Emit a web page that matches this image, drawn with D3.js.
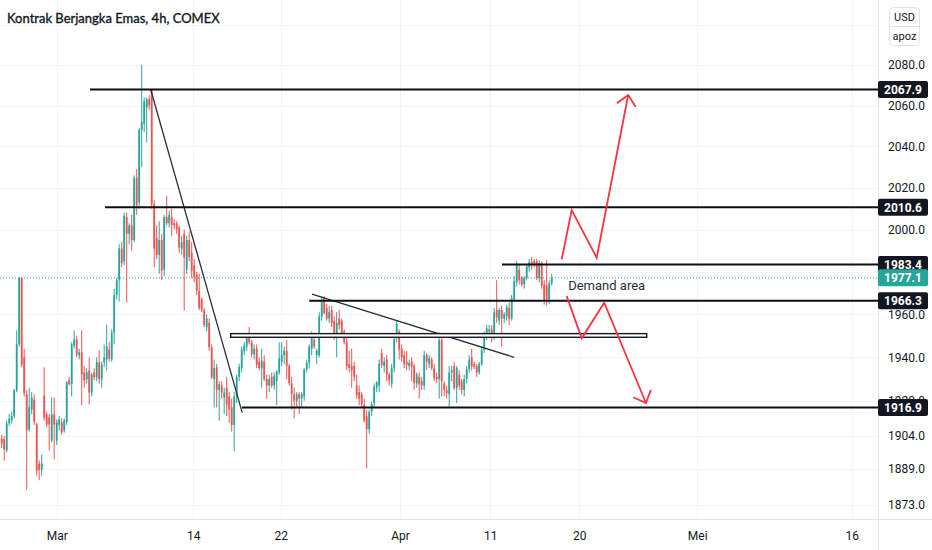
<!DOCTYPE html>
<html>
<head>
<meta charset="utf-8">
<script src="https://cdn.jsdelivr.net/npm/d3@7"></script>
<style>
  body { margin: 0; background: #fff; }
  svg { display: block; font-family: Roboto, "Liberation Sans", sans-serif; }
</style>
</head>
<body>
<div id="chart"></div>
<script>
var svgWidth = 932;
var svgHeight = 550;
var plotRight = 878;
var plotBottom = 519;

// 4h candles (one value per candle)
var opens = [
  1903, 1902.5, 1897.5, 1909.7, 1911, 1913, 1924.8, 1946, 1977, 1940,
  1922.9, 1907, 1916, 1920.6, 1909.2, 1891.5, 1888.7, 1922.4, 1913.8, 1912.4,
  1901.9, 1913.8, 1901.9, 1909, 1910.1, 1906.5, 1910.1, 1929.4, 1927.6, 1945.5,
  1948.3, 1940.9, 1942.3, 1933.1, 1929.9, 1934, 1923.8, 1933.1, 1930.8, 1937.7,
  1929.9, 1937.7, 1939, 1943.7, 1939, 1951.5, 1969, 1976, 1991, 1985,
  2006, 1998, 2002, 1995, 2024.8, 2013, 2048, 2051, 2059, 2063,
  2067.9, 2012, 1996, 1988, 1995, 1981, 2006, 2003, 2006, 2003,
  2003, 2001, 1991, 1998, 1981, 1995, 1989, 1983, 1978.6, 1971,
  1967, 1962, 1954, 1956, 1944.6, 1930, 1935.4, 1925, 1927, 1921.5,
  1926, 1922, 1917, 1909, 1922, 1931, 1935, 1943, 1945, 1951,
  1947, 1941.5, 1944, 1938, 1935, 1938, 1930, 1927, 1931, 1927,
  1929, 1933, 1938, 1941, 1943, 1936, 1928, 1923, 1920, 1923,
  1921, 1922, 1934.5, 1937.5, 1944, 1948, 1941, 1941, 1959, 1968,
  1963, 1958, 1962, 1957, 1950, 1958, 1957, 1952, 1947, 1937,
  1936, 1936, 1927, 1924, 1923, 1918, 1913, 1907, 1915, 1919,
  1926, 1927, 1942, 1936, 1939, 1932, 1928, 1935, 1949, 1952,
  1944, 1941, 1938, 1936, 1938, 1936, 1928, 1931, 1929, 1927,
  1941, 1937, 1939, 1935, 1931, 1930, 1948, 1928, 1925, 1923,
  1933, 1936, 1926, 1932, 1929, 1925, 1930, 1934.5, 1940, 1937,
  1936, 1933, 1937, 1943.5, 1950, 1952, 1953, 1950, 1962, 1957,
  1962, 1958, 1959, 1963, 1958, 1967, 1975, 1981, 1977, 1974,
  1977, 1982, 1984.5, 1985, 1985, 1977, 1984, 1974, 1973.5, 1967,
  1974.5
];
var highs = [
  1904.5, 1904, 1911, 1914, 1915, 1925.5, 1952.5, 1977.5, 1977.6, 1944,
  1925, 1926, 1924, 1923, 1910, 1893, 1895.5, 1935.4, 1915, 1914,
  1921.5, 1921.5, 1911.5, 1913, 1912, 1912, 1929, 1931, 1947, 1952.5,
  1950, 1944, 1952.5, 1936, 1935, 1940, 1933, 1935, 1940, 1943.2,
  1938, 1946, 1955.2, 1947, 1953, 1972, 1977, 1993, 1994, 2008,
  2008, 2003, 2007, 2026, 2029, 2049, 2080, 2064, 2064, 2065,
  2067.9, 2014, 2002, 2004, 1998, 2007, 2016, 2009, 2010, 2005,
  2004, 2002, 1997, 2000, 1997, 1999, 1994, 1986, 1980, 1979,
  1968, 1963, 1960, 1958, 1946, 1939, 1937, 1929, 1929, 1926,
  1931, 1924, 1921, 1924, 1932, 1937, 1945, 1947, 1950, 1954,
  1948, 1946, 1946, 1940, 1944, 1941, 1932, 1932, 1933, 1933,
  1934, 1947, 1947, 1945, 1948, 1937, 1931, 1926, 1924, 1924,
  1924, 1935, 1939, 1946, 1952, 1950, 1944, 1961, 1968.5, 1968.5,
  1965, 1964, 1964, 1959, 1961, 1962, 1958, 1953, 1950, 1943,
  1944, 1938, 1932, 1927, 1924, 1921, 1916, 1916, 1919.5, 1928,
  1929, 1939, 1944, 1940, 1941, 1933, 1937, 1950, 1957, 1953,
  1946, 1943, 1943, 1939, 1940, 1937, 1933, 1933, 1931, 1943,
  1942, 1941, 1940, 1937, 1933, 1951.5, 1950, 1929, 1927, 1936,
  1936, 1938, 1936, 1934, 1930, 1932, 1936, 1941, 1944, 1938,
  1937, 1938, 1945, 1952, 1955, 1955, 1955, 1963, 1976, 1963,
  1964, 1961, 1964.5, 1965.5, 1969, 1978, 1985, 1983, 1978, 1978,
  1983, 1986, 1987, 1986, 1986, 1985.5, 1985, 1976, 1985.5, 1976,
  1979
];
var lows = [
  1898.5, 1892.8, 1896.5, 1908.5, 1909.5, 1912, 1924, 1945, 1935.5, 1922,
  1879.6, 1906, 1914, 1909, 1886, 1884, 1886, 1911, 1908, 1897.4,
  1901, 1893.3, 1900, 1906.5, 1904.5, 1905.5, 1909, 1927, 1922, 1944,
  1940, 1939, 1918, 1926, 1928, 1918.3, 1922, 1929.5, 1929, 1928,
  1926, 1935.4, 1934, 1938, 1938, 1946, 1967, 1966, 1982, 1983,
  1965.5, 1993, 1990, 1994, 2007, 2010, 2030, 2047, 2042, 2058,
  2010, 1982, 1986, 1979, 1976, 1978, 2002, 2001, 1997, 2000,
  1998, 1989, 1988, 1961.7, 1979, 1985, 1977, 1975, 1969, 1962,
  1961, 1954, 1952, 1943, 1930, 1917, 1917, 1911, 1921, 1914,
  1913, 1910, 1906, 1897, 1919, 1929, 1933, 1941, 1943, 1946,
  1940, 1939, 1935, 1934, 1926, 1929, 1921, 1924, 1926, 1925,
  1918, 1932, 1936, 1937, 1930, 1927, 1916, 1912, 1917, 1914,
  1917, 1920, 1933, 1935, 1941, 1944, 1937, 1940, 1957, 1960,
  1957, 1956, 1954, 1948, 1940, 1953, 1949, 1946, 1934, 1933,
  1926, 1929, 1921, 1918, 1917, 1910, 1889.5, 1905, 1913, 1917,
  1924, 1924, 1935, 1933, 1929, 1927, 1926, 1933, 1947, 1939,
  1938, 1935, 1934, 1934, 1929, 1925, 1926, 1921, 1925, 1925,
  1934, 1935, 1934, 1929, 1928, 1921, 1922, 1922, 1921, 1917.5,
  1929, 1925, 1919, 1925, 1923, 1922, 1928, 1933, 1934, 1934.5,
  1931, 1932, 1936, 1942, 1948, 1949, 1947, 1948, 1956, 1955,
  1945, 1956, 1957, 1955, 1957, 1966, 1973, 1974, 1973, 1972,
  1976, 1980, 1981, 1982, 1976, 1975, 1972, 1964.5, 1964, 1965,
  1973.5
];
var closes = [
  1900.5, 1898, 1909.7, 1911.8, 1913, 1924.8, 1946, 1977, 1936.7, 1923.5,
  1906.5, 1917, 1921.5, 1910.5, 1888.3, 1888.7, 1891.5, 1912.4, 1909.2, 1909.2,
  1913.8, 1909.2, 1910.1, 1911.5, 1905.6, 1911, 1928.5, 1927.6, 1946, 1948.3,
  1941.4, 1942.3, 1932.1, 1929.4, 1933.1, 1923.8, 1932.1, 1930.8, 1937.7, 1929.9,
  1936.7, 1940, 1945, 1939.5, 1951.5, 1969, 1976, 1991, 1984, 2006.5,
  1998, 2002, 1995, 2024.8, 2011.7, 2048, 2052, 2062, 2063, 2060,
  2012, 1991, 1988, 1995, 1980.5, 2006, 2003, 2007, 2002, 2002,
  2000, 1991.4, 1994, 1986.6, 1995, 1987, 1980.5, 1977.5, 1971, 1963,
  1962, 1955, 1958, 1944.6, 1930.8, 1935, 1925, 1927.6, 1923.8, 1923.8,
  1918.3, 1916, 1909, 1922, 1931, 1935.5, 1943.5, 1945.5, 1949, 1947,
  1941.5, 1944, 1936.5, 1935, 1938.5, 1930, 1927, 1930, 1927, 1931.5,
  1933.5, 1939.5, 1941, 1943, 1936, 1928, 1923, 1920, 1923, 1921,
  1923, 1934.5, 1937.5, 1945, 1950, 1945, 1943, 1959, 1967, 1960.5,
  1958, 1961, 1956, 1950, 1956, 1955, 1950, 1947, 1936, 1935,
  1934, 1931, 1922.5, 1921, 1918.5, 1911, 1907, 1915, 1918.5, 1926.5,
  1928.5, 1937, 1936.5, 1938, 1932, 1929.5, 1935, 1948.5, 1955.5, 1943.5,
  1940, 1937, 1936.5, 1937.5, 1935.5, 1928, 1932, 1927.5, 1927, 1941,
  1938, 1939.5, 1935, 1930.5, 1930, 1948, 1929, 1925, 1923.5, 1933,
  1934, 1926, 1935, 1927, 1925, 1930, 1934.5, 1939, 1936, 1935.5,
  1933, 1937, 1943.5, 1950.5, 1953.5, 1953, 1950, 1961, 1958.5, 1962,
  1958, 1960, 1963.5, 1958, 1967.5, 1975.5, 1983.5, 1976, 1974, 1977,
  1982.5, 1984.5, 1983, 1983.5, 1977, 1984, 1973.5, 1966.5, 1967, 1974.5,
  1977.1
];

// grid lines at every price step; labels only where the axis shows them
var priceTicks = [2100, 2080, 2060, 2040, 2020, 2000, 1980, 1960, 1940, 1920, 1904, 1889, 1873];
var priceLabels = [2080, 2060, 2040, 2020, 2000, 1960, 1940, 1920, 1904, 1889, 1873];
var dateLabels = ["Mar", "14", "22", "Apr", "11", "20", "Mei", "16"];
var dateIndex = [22, 76.6, 111.6, 159.3, 195.4, 231, 278.2, 340];

var levelValues = [2067.9, 2010.6, 1983.4, 1966.3, 1916.9];
var levelStart = [35.3, 41.3, 200.1, 123, 96.1];
var lastPrice = 1977.1;

// drawings: [candle index, price]
var trendLines = [
  [[59.6, 2067.9], [96.2, 1914.6]],
  [[124.1, 1969.5], [205, 1940]]
];
var zoneBox = {from: 91.6, to: 258, top: 1951.0, bottom: 1949.3};
var arrowUp = [[224, 1985.8], [228, 2009.3], [238, 1986.6], [250.6, 2065.2]];
var arrowDown = [[226, 1968.5], [232, 1948.8], [241, 1965.4], [257.7, 1919.0]];
var noteText = "Demand area";
var notePos = [226.6, 1971.3];

var upColor = "#26a69a";
var downColor = "#ef5350";

var svg = d3.select("#chart").append("svg")
    .attr("width", svgWidth)
    .attr("height", svgHeight);

var xScale = d3.scaleLinear().domain([0, 100]).range([1.7, 251.7]);
var yScale = d3.scaleLog().domain([1873, 2080]).range([504.8, 65]);

svg.append("defs").append("clipPath").attr("id", "plot")
  .append("rect").attr("x", 0).attr("y", 0).attr("width", plotRight).attr("height", plotBottom);

// grid
var grid = svg.append("g").attr("clip-path", "url(#plot)");
grid.selectAll("line.h").data(priceTicks).enter().append("line")
    .attr("x1", 0).attr("x2", plotRight)
    .attr("y1", function(d) { return Math.round(yScale(d)) + 0.5; })
    .attr("y2", function(d) { return Math.round(yScale(d)) + 0.5; })
    .attr("stroke", "#f0f3fa");
grid.selectAll("line.v").data(dateIndex).enter().append("line")
    .attr("y1", 0).attr("y2", plotBottom)
    .attr("x1", function(d) { return Math.round(xScale(d)) + 0.5; })
    .attr("x2", function(d) { return Math.round(xScale(d)) + 0.5; })
    .attr("stroke", "#f0f3fa");

var plot = svg.append("g").attr("clip-path", "url(#plot)");

// last price dotted line
plot.append("line")
    .attr("x1", 0).attr("x2", plotRight)
    .attr("y1", yScale(lastPrice)).attr("y2", yScale(lastPrice))
    .attr("stroke", upColor).attr("stroke-width", 1)
    .attr("stroke-dasharray", "1 2");

// candles
var candles = plot.append("g").selectAll("g")
    .data(opens)
    .enter()
    .append("g")
    .attr("fill", function(d, i) { return closes[i] >= opens[i] ? upColor : downColor; })
    .attr("stroke", function(d, i) { return closes[i] >= opens[i] ? upColor : downColor; });

candles.append("line")
    .attr("x1", function(d, i) { return xScale(i); })
    .attr("x2", function(d, i) { return xScale(i); })
    .attr("y1", function(d, i) { return yScale(Math.max(highs[i], opens[i], closes[i])); })
    .attr("y2", function(d, i) { return yScale(Math.min(lows[i], opens[i], closes[i])); })
    .attr("stroke-width", 1);

candles.append("rect")
    .attr("stroke", "none")
    .attr("x", function(d, i) { return xScale(i) - 0.9; })
    .attr("width", 1.8)
    .attr("y", function(d, i) { return yScale(Math.max(opens[i], closes[i])); })
    .attr("height", function(d, i) {
        return Math.max(1, yScale(Math.min(opens[i], closes[i])) - yScale(Math.max(opens[i], closes[i])));
    });

// trend lines
plot.selectAll("line.trend").data(trendLines).enter().append("line")
    .attr("x1", function(d) { return xScale(d[0][0]); })
    .attr("y1", function(d) { return yScale(d[0][1]); })
    .attr("x2", function(d) { return xScale(d[1][0]); })
    .attr("y2", function(d) { return yScale(d[1][1]); })
    .attr("stroke", "#2a2e39")
    .attr("stroke-width", 1.3);

// zone rectangle
plot.append("rect")
    .attr("x", xScale(zoneBox.from))
    .attr("y", yScale(zoneBox.top))
    .attr("width", xScale(zoneBox.to) - xScale(zoneBox.from))
    .attr("height", yScale(zoneBox.bottom) - yScale(zoneBox.top))
    .attr("fill", "#fff")
    .attr("stroke", "#131722")
    .attr("stroke-width", 1.4);

// horizontal levels
plot.selectAll("line.level").data(levelValues).enter().append("line")
    .attr("x1", function(d, i) { return xScale(levelStart[i]); })
    .attr("x2", plotRight)
    .attr("y1", function(d) { return yScale(d); })
    .attr("y2", function(d) { return yScale(d); })
    .attr("stroke", "#0d0f16")
    .attr("stroke-width", 2);

// red arrows
var arrowLine = d3.line()
    .x(function(d) { return xScale(d[0]); })
    .y(function(d) { return yScale(d[1]); });

function drawArrow(points) {
    plot.append("path")
        .attr("d", arrowLine(points))
        .attr("fill", "none")
        .attr("stroke", "#f7333f")
        .attr("stroke-width", 1.8)
        .attr("stroke-linejoin", "miter");
    var n = points.length;
    var tx = xScale(points[n - 1][0]), ty = yScale(points[n - 1][1]);
    var px = xScale(points[n - 2][0]), py = yScale(points[n - 2][1]);
    var ang = Math.atan2(py - ty, px - tx);
    var spread = 43 * Math.PI / 180, len = 14;
    var head = [
        [tx + len * Math.cos(ang + spread), ty + len * Math.sin(ang + spread)],
        [tx, ty],
        [tx + len * Math.cos(ang - spread), ty + len * Math.sin(ang - spread)]
    ];
    plot.append("path")
        .attr("d", d3.line()(head))
        .attr("fill", "none")
        .attr("stroke", "#f7333f")
        .attr("stroke-width", 1.8);
}
drawArrow(arrowUp);
drawArrow(arrowDown);

plot.append("text")
    .attr("x", xScale(notePos[0]))
    .attr("y", yScale(notePos[1]))
    .attr("font-size", "13px")
    .attr("fill", "#2a2e39")
    .text(noteText);

// axes frame
svg.append("line").attr("x1", plotRight + 0.5).attr("x2", plotRight + 0.5)
    .attr("y1", 0).attr("y2", svgHeight).attr("stroke", "#e0e3eb");
svg.append("line").attr("x1", 0).attr("x2", svgWidth)
    .attr("y1", plotBottom + 0.5).attr("y2", plotBottom + 0.5).attr("stroke", "#e0e3eb");

// price axis
var rightAxis = d3.axisRight(yScale)
    .tickValues(priceLabels)
    .tickFormat(d3.format(".1f"))
    .tickSize(0)
    .tickPadding(10);
var yAxisG = svg.append("g")
    .attr("transform", "translate(" + plotRight + ",0)")
    .call(rightAxis);
yAxisG.select(".domain").remove();
yAxisG.selectAll("text")
    .attr("font-family", "Roboto, sans-serif")
    .attr("font-size", "12px")
    .attr("fill", "#131722");

// time axis
var bottomAxis = d3.axisBottom(xScale)
    .tickValues(dateIndex)
    .tickFormat(function(d, i) { return dateLabels[i]; })
    .tickSize(0)
    .tickPadding(12);
var xAxisG = svg.append("g")
    .attr("transform", "translate(0," + plotBottom + ")")
    .call(bottomAxis);
xAxisG.select(".domain").remove();
xAxisG.selectAll("text")
    .attr("font-family", "Roboto, sans-serif")
    .attr("font-size", "12px")
    .attr("fill", "#131722");

// price tags on the axis
var tagValues = levelValues.concat([lastPrice]);
var tags = svg.selectAll("g.tag").data(tagValues).enter().append("g")
    .attr("transform", function(d) { return "translate(" + plotRight + "," + yScale(d) + ")"; });
tags.append("rect")
    .attr("x", 0).attr("y", -8.5).attr("width", 50).attr("height", 17).attr("rx", 2)
    .attr("fill", function(d) { return d === lastPrice ? upColor : "#131722"; });
tags.append("text")
    .attr("x", 25).attr("y", 4.5)
    .attr("text-anchor", "middle")
    .attr("font-size", "12px")
    .attr("font-weight", "bold")
    .attr("fill", "#fff")
    .text(function(d) { return d.toFixed(1); });

// currency / unit box
var unit = svg.append("g");
unit.append("rect")
    .attr("x", 889.5).attr("y", 7.5).attr("width", 30).attr("height", 38).attr("rx", 4)
    .attr("fill", "#fff").attr("stroke", "#e0e3eb");
unit.append("line")
    .attr("x1", 890).attr("x2", 919).attr("y1", 26.5).attr("y2", 26.5)
    .attr("stroke", "#e0e3eb");
unit.append("text").attr("x", 904.5).attr("y", 21).attr("text-anchor", "middle")
    .attr("font-size", "11px").attr("fill", "#131722").text("USD");
unit.append("text").attr("x", 904.5).attr("y", 40).attr("text-anchor", "middle")
    .attr("font-size", "11px").attr("fill", "#131722").text("apoz");

// title
svg.append("text")
    .attr("x", 7)
    .attr("y", 23)
    .attr("font-family", "Lato, sans-serif")
    .attr("font-size", "13px")
    .attr("fill", "#131722")
    .attr("stroke", "#131722")
    .attr("stroke-width", 0.35)
    .text("Kontrak Berjangka Emas, 4h, COMEX");
</script>
</body>
</html>
